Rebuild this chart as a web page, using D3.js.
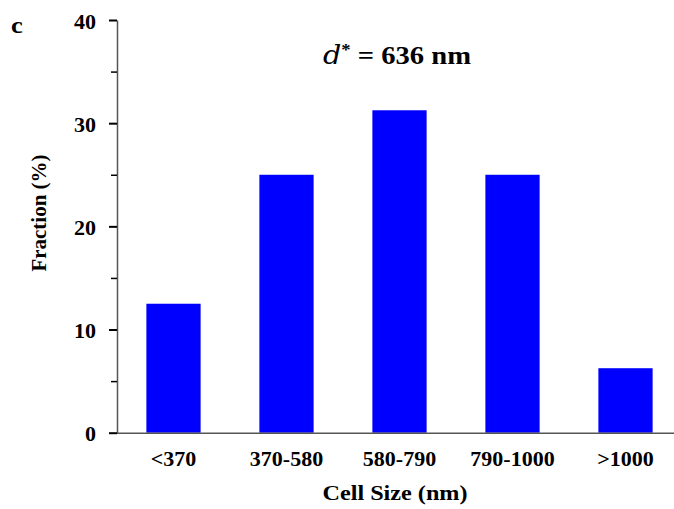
<!DOCTYPE html>
<html>
<head>
<meta charset="utf-8">
<script src="https://cdn.jsdelivr.net/npm/d3@7"></script>
<style>
  html, body { margin: 0; padding: 0; background: #fff; }
  svg text { font-family: "Liberation Serif", "Times New Roman", serif; font-weight: bold; fill: #000; }
</style>
</head>
<body>
<svg id="chart" width="674" height="509"></svg>
<script>
const categories = ["<370", "370-580", "580-790", "790-1000", ">1000"];
const fractions = [12.5, 25, 31.25, 25, 6.25];
const yMajorTicks = [0, 10, 20, 30, 40];
const yMinorTicks = [5, 15, 25, 35];
const panelLabel = "c";
const xTitle = "Cell Size (nm)";
const yTitle = "Fraction (%)";
const annotValue = "636 nm";

const svg = d3.select("#chart");
const SX = 1.1; // horizontal stretch of the original figure's text

const x = d3.scaleBand().domain(categories).range([117, 682]).paddingInner(0.52).paddingOuter(0.26);
const y = d3.scaleLinear().domain([0, 40]).range([432.7, 20]);

// bars
svg.append("g").selectAll("rect").data(fractions).join("rect")
  .attr("x", (d, i) => x(categories[i]))
  .attr("width", x.bandwidth())
  .attr("y", d => y(d))
  .attr("height", d => y(0) - y(d))
  .attr("fill", "#0000ff");

// y axis
const yAxis = svg.append("g").attr("transform", "translate(117,0)")
  .call(d3.axisLeft(y).tickValues(yMajorTicks).tickSize(8).tickPadding(11).tickSizeOuter(0));
yAxis.select(".domain").attr("stroke", "#555").attr("stroke-width", 1.5);
yAxis.selectAll(".tick line").attr("stroke", "#000").attr("stroke-width", 2);
yAxis.selectAll(".tick text").style("font-size", "20px").attr("dy", "0.4em")
  .attr("transform", `scale(${SX},1)`);

const yMinor = svg.append("g").attr("transform", "translate(117,0)")
  .call(d3.axisLeft(y).tickValues(yMinorTicks).tickSize(6).tickFormat(""));
yMinor.select(".domain").remove();
yMinor.selectAll(".tick line").attr("stroke", "#000").attr("stroke-width", 1.5);

// x axis
const xAxis = svg.append("g").attr("transform", `translate(0,${y(0)})`)
  .call(d3.axisBottom(x).tickSize(0).tickPadding(19).tickSizeOuter(0));
xAxis.select(".domain").attr("stroke", "#555").attr("stroke-width", 1.5)
  .attr("d", `M117,0.5H682`);
xAxis.selectAll(".tick text").style("font-size", "20px")
  .attr("transform", `scale(${SX},1)`);

// axis titles
svg.append("text").attr("transform", `translate(395,500) scale(${SX},1)`).attr("text-anchor", "middle")
  .style("font-size", "22px").text(xTitle);
svg.append("text").attr("transform", "translate(46,213) rotate(-90)").attr("text-anchor", "middle")
  .style("font-size", "21px").text(yTitle);

// panel label
svg.append("text").attr("transform", `translate(11,33) scale(${SX},1)`).style("font-size", "24px").text(panelLabel);

// annotation
const ann = svg.append("text").attr("transform", `translate(397,64) scale(${SX},1)`).attr("text-anchor", "middle")
  .style("font-size", "26px");
ann.append("tspan").style("font-style", "italic").style("font-weight", "normal")
  .style("font-family", "'DejaVu Serif', serif").text("d");
ann.append("tspan").attr("dy", -9).style("font-size", "17px").text("*");
ann.append("tspan").attr("dy", 9).text(" = " + annotValue);
</script>
</body>
</html>
